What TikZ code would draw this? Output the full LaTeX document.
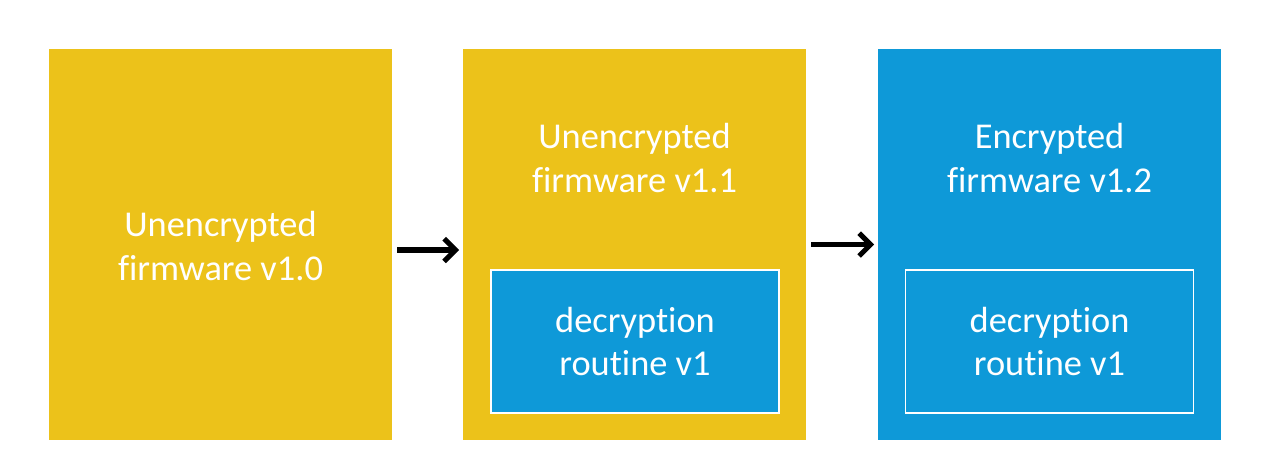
\documentclass[tikz,border=0pt]{standalone}
\usepackage{fontspec}
\setmainfont{Carlito}[Ligatures={NoCommon}]
\usetikzlibrary{arrows.meta}
\definecolor{fwyellow}{RGB}{236,194,26}
\definecolor{fwblue}{RGB}{14,153,216}
\tikzset{
  fwbox/.style={minimum width=6.86cm, minimum height=7.82cm, inner sep=0pt},
  routinebox/.style={minimum width=5.76cm, minimum height=2.86cm, inner sep=0pt, draw=white, line width=0.8pt},
  fwtext/.style={text=white, align=center, font=\fontsize{20.7}{25}\selectfont},
  fwarrow/.style={line width=2.9pt, -{Straight Barb[length=6.5pt,width=13pt]}}
}
\begin{document}
\begin{tikzpicture}[x=0.02cm, y=-0.02cm]
      \useasboundingbox (0, 0) rectangle (1266, 464);
      \node[fwbox, fill=fwyellow] (fw10) at (220.5, 244.5) {};
      \node[fwbox, fill=fwyellow] (fw11) at (634.5, 244.5) {};
      \node[fwbox, fill=fwblue] (fw12) at (1049.5, 244.5) {};
      \node[fwtext] at (220.5, 246) {Unencrypted\\firmware v1.0};
      \node[fwtext] at (634.5, 158) {Unencrypted\\firmware v1.1};
      \node[fwtext] at (1049.5, 158) {Encrypted\\firmware v1.2};
      \node[routinebox, fill=fwblue] (dec11) at (635, 341.5) {};
      \node[routinebox] (dec12) at (1049.5, 341.5) {};
      \node[fwtext] at (dec11) {decryption\\routine v1};
      \node[fwtext] at (dec12) {decryption\\routine v1};
      \draw[fwarrow] ([xshift=0.1cm, yshift=-0.11cm]fw10.east) -- ([xshift=-0.07cm, yshift=-0.11cm]fw11.west);
      \draw[fwarrow] ([xshift=0.1cm]fw11.east) -- ([xshift=-0.07cm]fw12.west);
    \end{tikzpicture}
\end{document}
